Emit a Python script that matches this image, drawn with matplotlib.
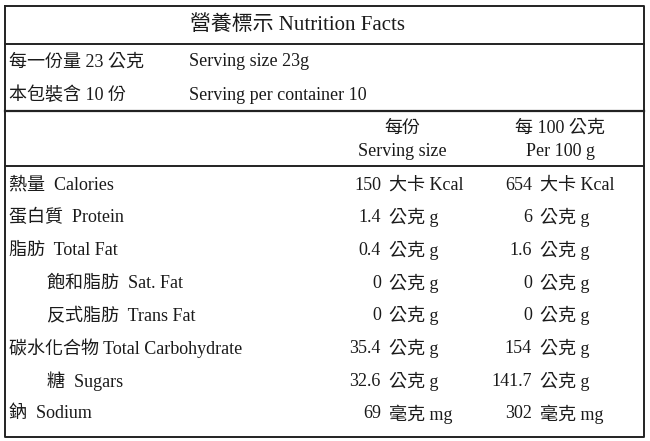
import matplotlib
matplotlib.use("Agg")
import matplotlib.pyplot as plt

# Table contents
title = "營養標示 Nutrition Facts"
serving_info = [("每一份量 23 公克", "Serving size 23g"),
                ("本包裝含 10 份", "Serving per container 10")]
col_headers = [("每份", "Serving size"), ("每 100 公克", "Per 100 g")]

nutrients = ["熱量  Calories", "蛋白質  Protein", "脂肪  Total Fat",
             "飽和脂肪  Sat. Fat", "反式脂肪  Trans Fat",
             "碳水化合物 Total Carbohydrate", "糖  Sugars", "鈉  Sodium"]
indented = [False, False, False, True, True, False, True, False]
per_serving = ["150", "1.4", "0.4", "0", "0", "35.4", "32.6", "69"]
per_100g = ["654", "6", "1.6", "0", "0", "154", "141.7", "302"]
units = ["大卡 Kcal", "公克 g", "公克 g", "公克 g", "公克 g", "公克 g", "公克 g", "毫克 mg"]

FONT = ["Liberation Serif", "Noto Sans CJK TC"]
FS = 13
W, H = 650, 441

fig = plt.figure(figsize=(6.5, 4.41), dpi=100)
ax = fig.add_axes([0, 0, 1, 1])
ax.set_xlim(0, W)
ax.set_ylim(H, 0)
ax.axis("off")

def txt(x, y, s, ha="left", size=FS):
    ax.text(x, y, s, ha=ha, va="center", fontsize=size, family=FONT, color="#1a1a1a")

# frame and separator lines
lc = "#222222"
ax.plot([5, 644, 644, 5, 5], [6, 6, 437, 437, 6], color=lc, lw=1.4)
ax.plot([5, 644], [44, 44], color=lc, lw=1.4)
ax.plot([5, 644], [111, 111], color=lc, lw=1.6)
ax.plot([5, 644], [166, 166], color=lc, lw=1.4)

txt(298, 25, title, ha="center", size=15)

for i, (zh, en) in enumerate(serving_info):
    y = 62 + i * 33
    txt(9, y, zh)
    txt(189, y, en)

for (zh, en), cx in zip(col_headers, [402, 560]):
    txt(cx, 128, zh, ha="center")
    txt(cx, 151, en, ha="center")

for i, name in enumerate(nutrients):
    y = 185 + i * 32.7
    txt(47 if indented[i] else 9, y, name)
    txt(381, y, per_serving[i], ha="right")
    txt(389, y, units[i])
    txt(532, y, per_100g[i], ha="right")
    txt(540, y, units[i])

fig.savefig("out.png", dpi=100, facecolor="white")
